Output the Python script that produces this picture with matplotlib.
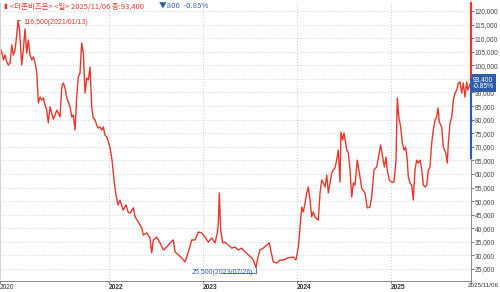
import numpy as np
import matplotlib.pyplot as plt

plt.rcParams['font.family'] = ['Noto Sans CJK KR', 'DejaVu Sans']

# daily close (time as decimal years)
years = [
    2020.840, 2020.858, 2020.876, 2020.894, 2020.912, 2020.929, 2020.947, 2020.965, 2020.982, 2021.000,
    2021.018, 2021.032, 2021.048, 2021.058, 2021.071, 2021.088, 2021.106, 2021.124, 2021.141, 2021.160,
    2021.178, 2021.195, 2021.213, 2021.231, 2021.248, 2021.266, 2021.284, 2021.301, 2021.319, 2021.337,
    2021.354, 2021.372, 2021.390, 2021.407, 2021.426, 2021.444, 2021.461, 2021.479, 2021.497, 2021.514,
    2021.532, 2021.550, 2021.567, 2021.585, 2021.603, 2021.620, 2021.638, 2021.656, 2021.673, 2021.691,
    2021.709, 2021.727, 2021.745, 2021.763, 2021.780, 2021.798, 2021.816, 2021.833, 2021.851, 2021.869,
    2021.886, 2021.904, 2021.922, 2021.939, 2021.957, 2021.976, 2021.993, 2022.011, 2022.032, 2022.053,
    2022.074, 2022.096, 2022.117, 2022.149, 2022.181, 2022.202, 2022.223, 2022.259, 2022.277, 2022.312,
    2022.348, 2022.365, 2022.401, 2022.436, 2022.454, 2022.471, 2022.507, 2022.543, 2022.578, 2022.614,
    2022.649, 2022.684, 2022.702, 2022.737, 2022.773, 2022.809, 2022.844, 2022.880, 2022.915, 2022.950,
    2022.986, 2023.021, 2023.056, 2023.093, 2023.128, 2023.152, 2023.163, 2023.173, 2023.188, 2023.209,
    2023.234, 2023.269, 2023.305, 2023.340, 2023.376, 2023.411, 2023.447, 2023.482, 2023.518, 2023.535,
    2023.564, 2023.582, 2023.606, 2023.641, 2023.678, 2023.705, 2023.731, 2023.748, 2023.784, 2023.819,
    2023.854, 2023.907, 2023.961, 2023.989, 2024.014, 2024.039, 2024.050, 2024.067, 2024.085, 2024.103,
    2024.120, 2024.138, 2024.156, 2024.173, 2024.191, 2024.226, 2024.245, 2024.263, 2024.280, 2024.298,
    2024.316, 2024.333, 2024.351, 2024.369, 2024.386, 2024.404, 2024.422, 2024.439, 2024.457, 2024.468,
    2024.486, 2024.500, 2024.529, 2024.546, 2024.564, 2024.582, 2024.599, 2024.617, 2024.641, 2024.663,
    2024.688, 2024.723, 2024.748, 2024.776, 2024.794, 2024.819, 2024.848, 2024.875, 2024.890, 2024.911,
    2024.929, 2024.947, 2024.960, 2024.982, 2025.007, 2025.032, 2025.053, 2025.067, 2025.082, 2025.103,
    2025.120, 2025.138, 2025.156, 2025.173, 2025.184, 2025.202, 2025.220, 2025.237, 2025.255, 2025.273,
    2025.290, 2025.309, 2025.327, 2025.344, 2025.362, 2025.380, 2025.397, 2025.415, 2025.433, 2025.450,
    2025.468, 2025.486, 2025.500, 2025.514, 2025.539, 2025.556, 2025.582, 2025.599, 2025.610, 2025.628,
    2025.646, 2025.663, 2025.681, 2025.699, 2025.716, 2025.734, 2025.752, 2025.769, 2025.787, 2025.805,
    2025.816, 2025.846,
]
close = [
    106400, 104900, 102000, 103800, 101200, 100100, 100900, 107500, 103800, 105600,
    111200, 116500, 113000, 107500, 100100, 105600, 113400, 104500, 109300, 103800,
    102000, 103100, 100900, 97500, 86100, 88300, 87200, 88000, 85400, 83500,
    78800, 84700, 82400, 80200, 81700, 83500, 82400, 81000, 92000, 93500,
    91600, 88000, 86500, 84700, 81000, 81700, 76200, 88300, 95700, 97200,
    108200, 104500, 89800, 95300, 94600, 99400, 84300, 80600, 79900, 78000,
    76900, 77300, 76200, 77300, 74300, 73600, 71800, 69600, 65100, 57800,
    52300, 48600, 50400, 46700, 48600, 46000, 45600, 47500, 44200, 42300,
    40100, 37500, 38300, 36400, 30900, 35700, 36800, 34600, 32000, 33100,
    34600, 35700, 31300, 30200, 29100, 27600, 31300, 35700, 35700, 38600,
    38300, 36800, 34900, 36400, 34600, 38300, 41900, 53000, 39400, 34600,
    34900, 33800, 32700, 33100, 32000, 32700, 31300, 30200, 29100, 28300,
    25500, 29100, 32000, 32700, 33800, 34600, 30200, 27600, 27200, 28300,
    28300, 29100, 29400, 28300, 33100, 43000, 47800, 46000, 49300, 53000,
    55200, 50400, 44200, 46000, 44200, 43000, 53000, 57800, 56700, 55200,
    59600, 53000, 56700, 60400, 61500, 62200, 65100, 68800, 57000, 75400,
    72500, 75100, 68800, 67700, 61500, 51500, 56700, 55900, 65100, 60400,
    54800, 53000, 47500, 47800, 51500, 61500, 62600, 67700, 70700, 66200,
    62600, 66200, 61500, 57800, 57000, 57000, 65100, 88000, 81000, 77300,
    71400, 68800, 69900, 65100, 58900, 56700, 55900, 50400, 61500, 65100,
    64000, 65100, 61500, 55900, 55200, 55900, 61500, 62600, 71400, 76200,
    79900, 81000, 84300, 79100, 77300, 69900, 67700, 64000, 71400, 78800,
    81000, 87200, 89800, 90900, 93500, 93900, 89800, 93500, 88300, 93900,
    90900, 93400,
]

peak_label = '116,500(2021/01/13)'
low_label = '25,500(2023/07/26)'
title_main = '<더존비즈온> <일> 2025/11/06 종:93,400'
title_chg = '▼800  -0.85%'
end_label = '2025/11/06'
last_box = '93,400\n-0.85%'

yticks = np.arange(25000, 120001, 5000)
year_ticks = [2022, 2023, 2024, 2025]
x_start, x_end = 2020.840, 2025.851

red = '#e8372c'
blue = '#2f5da8'
grid_c = '#c8c8c8'
num_font = 'Liberation Sans'
fs = 4.8

fig = plt.figure(figsize=(5, 2.92), dpi=100)
ax = fig.add_axes([0.0, 0.0377, 0.942, 0.952])

ax.plot(years, close, color=red, lw=1.0)

ax.set_xlim(x_start, x_end)
ax.set_ylim(20590, 122950)

# dotted grid
for v in yticks:
    ax.axhline(v, color=grid_c, lw=0.6, ls=(0, (1, 2)), zorder=0)
for yr in year_ticks:
    ax.axvline(yr, color=grid_c, lw=0.7, ls=(0, (1, 2)), zorder=0)

# the last-price box hides the 95,000 label
ax.yaxis.tick_right()
ax.set_yticks(yticks)
ax.set_yticklabels(['' if v == 95000 else f'{v:,}' for v in yticks], family=num_font)
ax.tick_params(axis='y', labelsize=fs, colors='#444444', length=2, width=0.5, pad=0.8)

xt = [x_start] + year_ticks + [x_end]
ax.set_xticks(xt)
ax.set_xticklabels(['2020'] + [str(y) for y in year_ticks] + [''], family=num_font)
ax.tick_params(axis='x', labelsize=fs, colors='#333333', length=1.5, width=0.5, pad=0.5)
for i, lab in enumerate(ax.get_xticklabels()):
    lab.set_horizontalalignment('left')
    if 0 < i < len(xt) - 1:
        lab.set_fontweight('bold')
fig.text(0.998, 0.0377 - 2.2 / 292, end_label, ha='right', va='top', fontsize=fs - 0.3,
         family=num_font, color='#333333')

ax.spines['top'].set_visible(False)
ax.spines['left'].set_color('#d0d0d0')
ax.spines['bottom'].set_color('#888888')
ax.spines['right'].set_color('#888888')
for s in ['left', 'bottom', 'right']:
    ax.spines[s].set_linewidth(0.7)

# day range marks on the price axis
ax.plot([x_end, x_end], [94600, 123000], color=red, lw=1.6, clip_on=False, zorder=5)
ax.plot([x_end, x_end], [65900, 94600], color=blue, lw=1.6, clip_on=False, zorder=5)

# last price box
ax.annotate(last_box, xy=(1.0, 93400), xycoords=('axes fraction', 'data'),
            xytext=(1.5, 0), textcoords='offset points', va='center', ha='left',
            fontsize=fs, color='white', family=num_font, linespacing=0.95,
            bbox=dict(boxstyle='square,pad=0.3', fc=blue, ec='none'),
            annotation_clip=False, zorder=10)

# high / low annotations
i_hi = int(np.argmax(close))
i_lo = int(np.argmin(close))
ax.annotate(peak_label, xy=(years[i_hi], close[i_hi]), xytext=(4, -1.5),
            textcoords='offset points', fontsize=fs + 0.2, color=red, va='center',
            family=num_font,
            arrowprops=dict(arrowstyle='-', color=red, lw=0.6, shrinkA=0, shrinkB=0))
ax.annotate(low_label, xy=(years[i_lo], close[i_lo]), xytext=(-2, -3.5),
            textcoords='offset points', fontsize=fs + 0.2, color=blue, va='center', ha='right',
            family=num_font,
            arrowprops=dict(arrowstyle='-', color=blue, lw=0.6, shrinkA=0, shrinkB=0,
                            connectionstyle='angle,angleA=0,angleB=90,rad=0'))

# header
fig.text(0.006, 0.978, '▮', color=red, fontsize=5, va='center')
fig.text(0.02, 0.978, title_main, color=red, fontsize=5.4, va='center')
fig.text(0.318, 0.978, title_chg, color=blue, fontsize=5.6, va='center')

fig.savefig('out.png', dpi=100)
